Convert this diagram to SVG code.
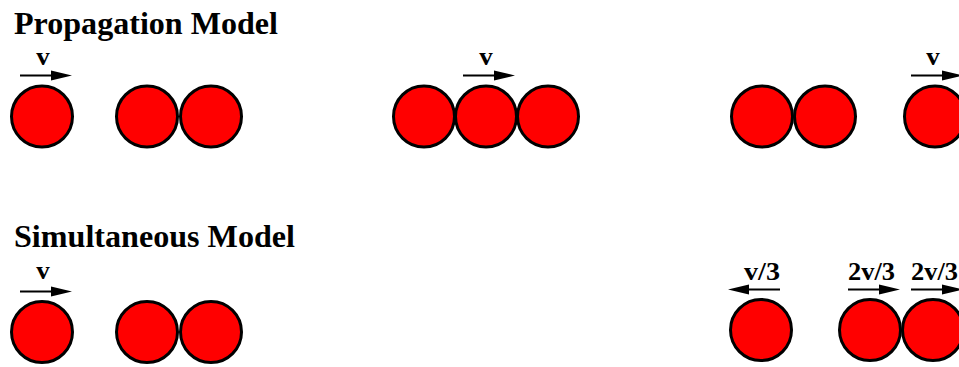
<svg xmlns="http://www.w3.org/2000/svg" width="959" height="367" viewBox="0 0 959 367">
<style>
.ball{fill:#ff0000;stroke:#000;stroke-width:3}
.title{font-family:"Liberation Serif","Times New Roman",serif;font-weight:bold;font-size:32px;fill:#000}
.lbl{font-family:"Liberation Serif","Times New Roman",serif;font-weight:bold;font-size:26px;fill:#000;text-anchor:middle}
.arr{stroke:#000;stroke-width:2.2;fill:none;marker-end:url(#ah)}
</style>
<defs>
<marker id="ah" markerUnits="userSpaceOnUse" markerWidth="20" markerHeight="10" refX="10" refY="5" orient="auto" overflow="visible">
<path d="M-1,0 L20,5 L-1,10 Z" fill="#000"/>
</marker>
</defs>
<rect width="959" height="367" fill="#fff"/>
<text class="title" x="14" y="33.5" textLength="264" lengthAdjust="spacingAndGlyphs">Propagation Model</text>
<text class="title" x="14" y="247" textLength="281" lengthAdjust="spacingAndGlyphs">Simultaneous Model</text>
<g id="connectors">
<line class="arr" x1="20" y1="75.5" x2="62" y2="75.5"/>
<line class="arr" x1="463" y1="75.5" x2="505" y2="75.5"/>
<line class="arr" x1="911" y1="75.5" x2="953" y2="75.5"/>
<line class="arr" x1="20" y1="291.5" x2="62" y2="291.5"/>
<line class="arr" x1="780" y1="289.5" x2="738" y2="289.5"/>
<line class="arr" x1="848" y1="289.5" x2="890" y2="289.5"/>
<line class="arr" x1="911" y1="289.5" x2="953" y2="289.5"/>
</g>
<g id="labels">
<text class="lbl" x="43" y="65" textLength="13.5" lengthAdjust="spacingAndGlyphs">v</text>
<text class="lbl" x="486" y="65" textLength="13.5" lengthAdjust="spacingAndGlyphs">v</text>
<text class="lbl" x="933" y="65" textLength="13.5" lengthAdjust="spacingAndGlyphs">v</text>
<text class="lbl" x="43" y="278.5" textLength="13.5" lengthAdjust="spacingAndGlyphs">v</text>
<text class="lbl" x="762" y="280" textLength="36" lengthAdjust="spacingAndGlyphs">v/3</text>
<text class="lbl" x="871.5" y="280" textLength="47" lengthAdjust="spacingAndGlyphs">2v/3</text>
<text class="lbl" x="934.5" y="280" textLength="47" lengthAdjust="spacingAndGlyphs">2v/3</text>
</g>
<g id="p1"><circle class="ball" cx="42" cy="116.5" r="30.5"/></g>
<g id="p2"><circle class="ball" cx="147" cy="116.5" r="30.5"/></g>
<g id="p3"><circle class="ball" cx="211" cy="116.5" r="30.5"/></g>
<g id="p4"><circle class="ball" cx="424" cy="116.5" r="30.5"/></g>
<g id="p5"><circle class="ball" cx="486" cy="116.5" r="30.5"/></g>
<g id="p6"><circle class="ball" cx="548" cy="116.5" r="30.5"/></g>
<g id="p7"><circle class="ball" cx="762" cy="116.5" r="30.5"/></g>
<g id="p8"><circle class="ball" cx="825" cy="116.5" r="30.5"/></g>
<g id="p9"><circle class="ball" cx="935" cy="116.5" r="30.5"/></g>
<g id="s1"><circle class="ball" cx="42" cy="332" r="30.5"/></g>
<g id="s2"><circle class="ball" cx="147" cy="332" r="30.5"/></g>
<g id="s3"><circle class="ball" cx="211" cy="332" r="30.5"/></g>
<g id="s4"><circle class="ball" cx="761" cy="330" r="30.5"/></g>
<g id="s5"><circle class="ball" cx="870" cy="330" r="30.5"/></g>
<g id="s6"><circle class="ball" cx="933" cy="330" r="30.5"/></g>
</svg>
